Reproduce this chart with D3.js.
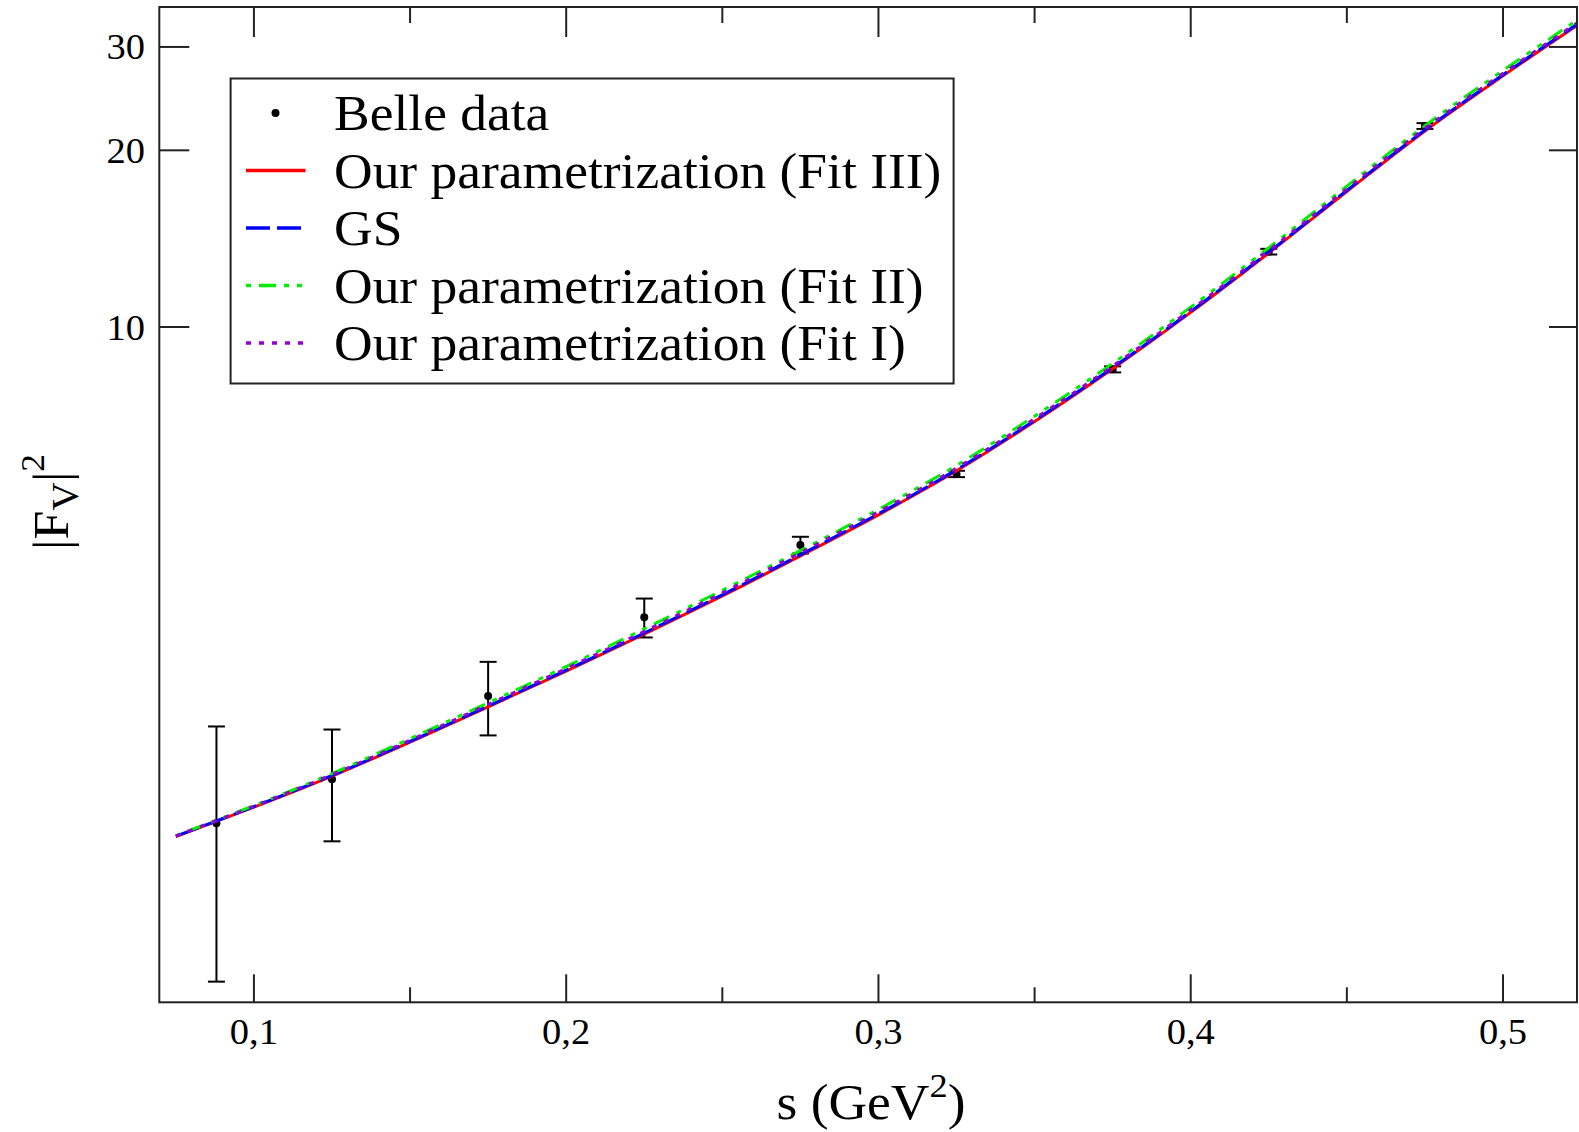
<!DOCTYPE html>
<html>
<head>
<meta charset="utf-8">
<script src="https://cdn.jsdelivr.net/npm/d3@7"></script>
<style>
  body { margin: 0; background: #fff; }
  text { font-family: "Liberation Serif", "DejaVu Serif", serif; fill: #000; }
</style>
</head>
<body>
<div id="wrapper"></div>
<script>
// Belle data points
const dataS = [0.088, 0.125, 0.175, 0.225, 0.275, 0.325, 0.375, 0.425, 0.475];
const dataF = [1.427, 1.696, 2.352, 3.203, 4.252, 5.62, 8.47, 13.44, 22.0];
const dataErr = [0.66, 0.366, 0.337, 0.244, 0.14, 0.07, 0.1, 0.15, 0.25];

// curves, shared s grid
const curveS = [0.075, 0.1, 0.125, 0.15, 0.175, 0.2, 0.225, 0.25, 0.275, 0.3,
                0.325, 0.35, 0.375, 0.4, 0.425, 0.45, 0.475, 0.5, 0.524];
const fitIII = [1.355, 1.521, 1.718, 1.963, 2.254, 2.594, 2.999, 3.483, 4.074, 4.786,
                5.689, 6.902, 8.492, 10.59, 13.37, 17.02, 21.58, 26.79, 32.73];
const gs     = [1.357, 1.524, 1.722, 1.968, 2.261, 2.603, 3.011, 3.498, 4.092, 4.807,
                5.713, 6.93, 8.527, 10.63, 13.42, 17.09, 21.66, 26.9, 32.86];
const fitII  = [1.36, 1.53, 1.735, 1.99, 2.29, 2.64, 3.06, 3.56, 4.16, 4.89,
                5.81, 7.05, 8.67, 10.81, 13.65, 17.38, 22.03, 27.35, 33.4];
const fitI   = [1.358, 1.527, 1.728, 1.978, 2.275, 2.62, 3.03, 3.525, 4.125, 4.845,
                5.75, 6.98, 8.58, 10.7, 13.51, 17.2, 21.8, 27.06, 33.05];

const xMajor = [0.1, 0.2, 0.3, 0.4, 0.5];
const xMinor = [0.15, 0.25, 0.35, 0.45];
const xLabels = ["0,1", "0,2", "0,3", "0,4", "0,5"];
const yTicks = [10, 20, 30];
const yLabels = ["10", "20", "30"];

const legendNames = ["Belle data", "Our parametrization (Fit III)", "GS",
                     "Our parametrization (Fit II)", "Our parametrization (Fit I)"];

// series styles
const series = [
    {vals: fitIII, color: "#ff0000", dash: null, offset: 0},
    {vals: gs, color: "#0000ff", dash: "24,7", offset: 0},
    {vals: fitII, color: "#00ee00", dash: "17,8,5,8,5,8", offset: 38},
    {vals: fitI, color: "#9400d3", dash: "5,8", offset: 0}
];

const dim = {width: 1579, height: 1132, left: 159.3, right: 1577, top: 7, bottom: 1002.3};
const stretch = "scale(1.07,1)"; // text in the figure is a bit wide

const svg = d3.select("#wrapper").append("svg")
    .attr("width", dim.width)
    .attr("height", dim.height);

svg.append("rect").attr("width", dim.width).attr("height", dim.height).attr("fill", "#fff");

const x = d3.scaleLinear()
    .domain([0.0697, 0.5237])
    .range([dim.left, dim.right]);

const y = d3.scaleLog()
    .domain([0.7073, 35.09])
    .range([dim.bottom, dim.top]);

svg.append("clipPath").attr("id", "clip")
    .append("rect")
    .attr("x", dim.left).attr("y", dim.top)
    .attr("width", dim.right - dim.left).attr("height", dim.bottom - dim.top);

// data with error bars
const pts = dataS.map((s, i) => ({s: s, f: dataF[i], e: dataErr[i]}));
const dataG = svg.append("g").attr("stroke", "#000").attr("stroke-width", 2);
dataG.selectAll("line.bar").data(pts).join("line")
    .attr("x1", d => x(d.s)).attr("x2", d => x(d.s))
    .attr("y1", d => y(d.f - d.e)).attr("y2", d => y(d.f + d.e));
dataG.selectAll("line.capTop").data(pts).join("line")
    .attr("x1", d => x(d.s) - 8.5).attr("x2", d => x(d.s) + 8.5)
    .attr("y1", d => y(d.f + d.e)).attr("y2", d => y(d.f + d.e));
dataG.selectAll("line.capBot").data(pts).join("line")
    .attr("x1", d => x(d.s) - 8.5).attr("x2", d => x(d.s) + 8.5)
    .attr("y1", d => y(d.f - d.e)).attr("y2", d => y(d.f - d.e));
svg.append("g").selectAll("circle").data(pts).join("circle")
    .attr("cx", d => x(d.s)).attr("cy", d => y(d.f))
    .attr("r", 4).attr("fill", "#000");

// curves
const line = d3.line()
    .x(d => x(d[0]))
    .y(d => y(d[1]))
    .curve(d3.curveCatmullRom);

const curveG = svg.append("g").attr("clip-path", "url(#clip)");
series.forEach(sr => {
    curveG.append("path")
        .attr("d", line(curveS.map((s, i) => [s, sr.vals[i]])))
        .attr("fill", "none")
        .attr("stroke", sr.color)
        .attr("stroke-width", 3)
        .attr("stroke-dasharray", sr.dash)
        .attr("stroke-dashoffset", sr.offset);
});

// frame
svg.append("rect")
    .attr("x", dim.left).attr("y", dim.top)
    .attr("width", dim.right - dim.left).attr("height", dim.bottom - dim.top)
    .attr("fill", "none").attr("stroke", "#222").attr("stroke-width", 2);

// ticks
const tickG = svg.append("g").attr("stroke", "#222").attr("stroke-width", 2);
xMajor.forEach(v => {
    tickG.append("line").attr("x1", x(v)).attr("x2", x(v)).attr("y1", dim.bottom).attr("y2", dim.bottom - 28);
    tickG.append("line").attr("x1", x(v)).attr("x2", x(v)).attr("y1", dim.top).attr("y2", dim.top + 30);
});
xMinor.forEach(v => {
    tickG.append("line").attr("x1", x(v)).attr("x2", x(v)).attr("y1", dim.bottom).attr("y2", dim.bottom - 15);
    tickG.append("line").attr("x1", x(v)).attr("x2", x(v)).attr("y1", dim.top).attr("y2", dim.top + 16);
});
yTicks.forEach(v => {
    tickG.append("line").attr("x1", dim.left).attr("x2", dim.left + 30).attr("y1", y(v)).attr("y2", y(v));
    tickG.append("line").attr("x1", dim.right).attr("x2", dim.right - 28).attr("y1", y(v)).attr("y2", y(v));
});

// tick labels
svg.append("g").selectAll("text").data(xMajor).join("text")
    .attr("transform", d => `translate(${x(d)},1044) ${stretch}`)
    .attr("text-anchor", "middle").attr("font-size", 36)
    .text((d, i) => xLabels[i]);
svg.append("g").selectAll("text").data(yTicks).join("text")
    .attr("transform", d => `translate(145,${y(d) + 12.5}) ${stretch}`)
    .attr("text-anchor", "end").attr("font-size", 36)
    .text((d, i) => yLabels[i]);

// axis titles
const xt = svg.append("text").attr("transform", `translate(871,1119) ${stretch}`)
    .attr("text-anchor", "middle").attr("font-size", 50);
xt.append("tspan").text("s (GeV");
xt.append("tspan").attr("font-size", 34).attr("dy", -22).text("2");
xt.append("tspan").attr("dy", 22).text(")");

const yt = svg.append("text")
    .attr("transform", "translate(68,502) rotate(-90) scale(1.04,1)")
    .attr("text-anchor", "middle").attr("font-size", 50);
yt.append("tspan").text("|F");
yt.append("tspan").attr("font-size", 38).attr("dy", 10).text("V");
yt.append("tspan").attr("dy", -10).text("|");
yt.append("tspan").attr("font-size", 34).attr("dy", -24).text("2");

// legend
const legend = svg.append("g");
legend.append("rect")
    .attr("x", 230.6).attr("y", 78.5)
    .attr("width", 723).attr("height", 305)
    .attr("fill", "#fff").attr("stroke", "#222").attr("stroke-width", 2);
const legY = [113, 170.5, 228, 285.5, 343];
legend.append("circle").attr("cx", 275.5).attr("cy", legY[0]).attr("r", 4).attr("fill", "#000");
series.forEach((sr, i) => {
    legend.append("line")
        .attr("x1", 246).attr("x2", 305.5)
        .attr("y1", legY[i + 1]).attr("y2", legY[i + 1])
        .attr("stroke", sr.color).attr("stroke-width", 3.5)
        .attr("stroke-dasharray", sr.dash)
        .attr("stroke-dashoffset", sr.offset);
});
legend.selectAll("text").data(legendNames).join("text")
    .attr("transform", (d, i) => `translate(334,${legY[i] + 17}) ${stretch}`)
    .attr("font-size", 50)
    .text(d => d);
</script>
</body>
</html>
